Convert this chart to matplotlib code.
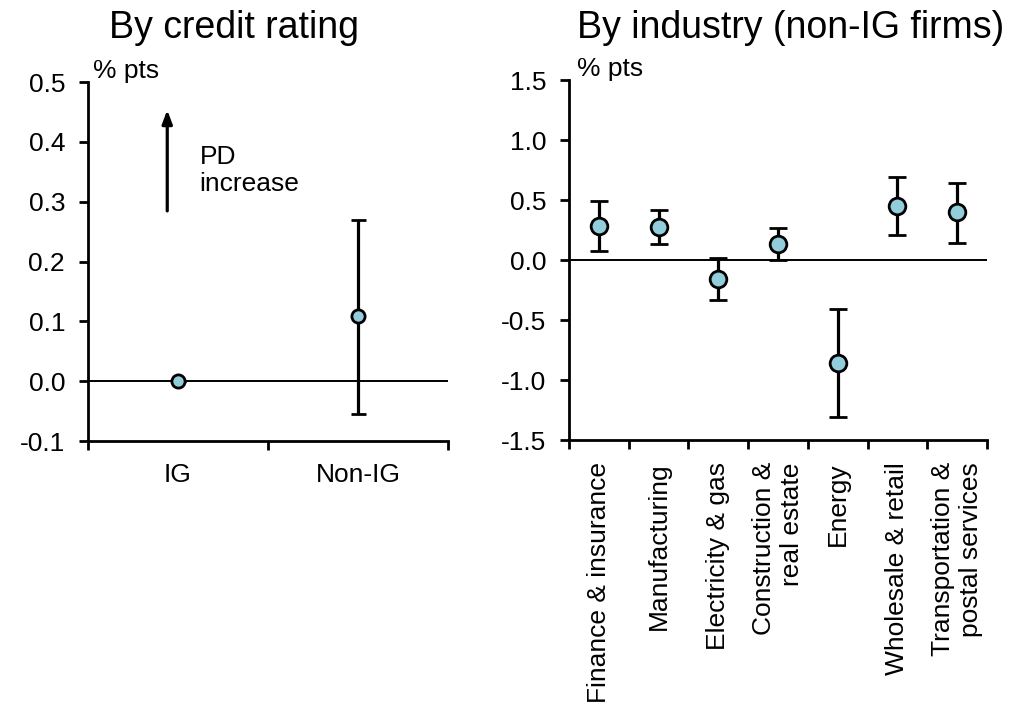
import numpy as np
import matplotlib.pyplot as plt

plt.rcParams['font.family'] = ['Liberation Sans', 'DejaVu Sans']

# credit rating panel
rating_cats = ['IG', 'Non-IG']
rating_est = [0.0, 0.109]
rating_hi = [0.0, 0.269]
rating_lo = [0.0, -0.055]

# industry panel (non-IG firms)
ind_cats = ['Finance & insurance', 'Manufacturing', 'Electricity & gas',
            'Construction &\nreal estate', 'Energy', 'Wholesale & retail',
            'Transportation &\npostal services']
ind_est = [0.28, 0.275, -0.155, 0.13, -0.855, 0.45, 0.40]
ind_hi = [0.49, 0.42, 0.02, 0.265, -0.405, 0.69, 0.645]
ind_lo = [0.075, 0.13, -0.33, 0.0, -1.305, 0.21, 0.14]

dot = '#92CDDC'
fs = 19

fig = plt.figure(figsize=(10.19, 7.15), dpi=100)
ax1 = fig.add_axes([0.0864, 0.3832, 0.3533, 0.502])
ax2 = fig.add_axes([0.5584, 0.3846, 0.4102, 0.5035])


def style(ax):
    for s in ['top', 'right']:
        ax.spines[s].set_visible(False)
    for s in ['left', 'bottom']:
        ax.spines[s].set_linewidth(2)
    ax.tick_params(axis='y', length=6.5, width=2, pad=10, labelsize=fs)
    ax.tick_params(axis='x', which='minor', length=6.5, width=2, direction='out')
    ax.tick_params(axis='x', which='major', length=0, labelsize=fs)
    ax.axhline(0, color='black', lw=1.4, zorder=1)


def draw(ax, est, hi, lo, ms, cap):
    x = np.arange(len(est))
    est = np.array(est)
    err = [est - np.array(lo), np.array(hi) - est]
    ax.errorbar(x, est, yerr=err, fmt='o', color='black', ecolor='black',
                elinewidth=2.3, capsize=cap, capthick=2.3, ms=ms,
                mfc=dot, mec='black', mew=2, zorder=3)
    ax.set_xlim(-0.5, len(est) - 0.5)
    ax.set_xticks(x)
    ax.set_xticks(np.arange(len(est) + 1) - 0.5, minor=True)


# left: by credit rating
style(ax1)
draw(ax1, rating_est, rating_hi, rating_lo, 9.5, 5.4)
ax1.set_ylim(-0.1, 0.5)
ax1.set_yticks(np.arange(-0.1, 0.51, 0.1))
ax1.set_yticklabels(['%.1f' % v for v in np.arange(-0.1, 0.51, 0.1)])
ax1.set_xticklabels(rating_cats)
ax1.tick_params(axis='x', which='major', pad=16)
ax1.annotate('', xy=(-0.06, 0.458), xytext=(-0.06, 0.28),
             arrowprops=dict(arrowstyle='-|>,head_width=0.3,head_length=0.8',
                             color='black', lw=2.3))
ax1.text(0.12, 0.352, 'PD\nincrease', fontsize=fs, va='center', ha='left',
         linespacing=1.15)
ax1.text(0.014, 1.03, '% pts', transform=ax1.transAxes, fontsize=fs,
         va='center', ha='left')

# right: by industry
style(ax2)
draw(ax2, ind_est, ind_hi, ind_lo, 12, 6.2)
ax2.set_ylim(-1.5, 1.5)
ax2.set_yticks(np.arange(-1.5, 1.51, 0.5))
ax2.set_yticklabels(['%.1f' % v for v in np.arange(-1.5, 1.51, 0.5)])
ax2.set_xticklabels(ind_cats, rotation=90, va='top', ha='center',
                    multialignment='right', linespacing=1.2)
ax2.tick_params(axis='x', which='major', pad=16)
ax2.text(0.019, 1.03, '% pts', transform=ax2.transAxes, fontsize=fs,
         va='center', ha='left')

fig.text(0.2296, 0.947, 'By credit rating', fontsize=27, ha='center',
         va='baseline')
fig.text(0.776, 0.947, 'By industry (non-IG firms)', fontsize=27,
         ha='center', va='baseline')

fig.savefig('out.png', dpi=100)
